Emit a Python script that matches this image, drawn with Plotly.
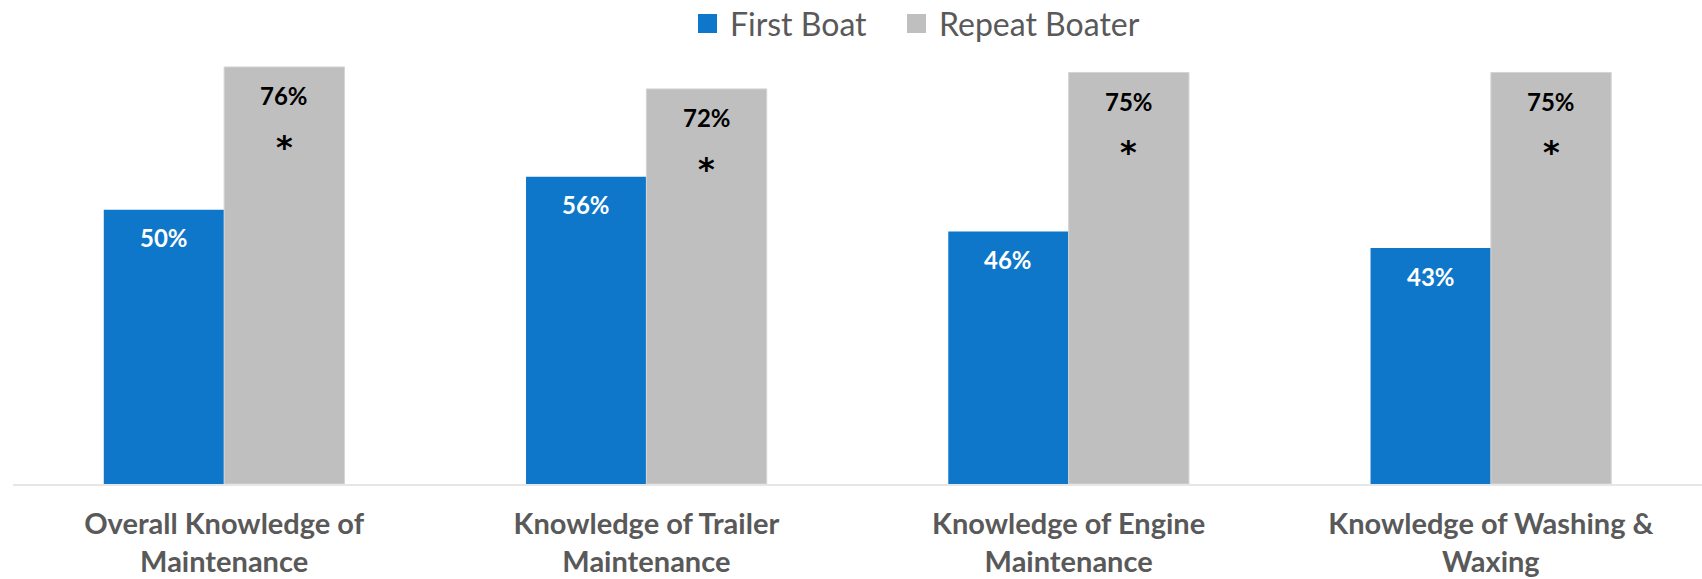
import plotly.graph_objects as go

# Survey results: share of respondents reporting knowledge of each topic
categories = [
    "Overall Knowledge of<br>Maintenance",
    "Knowledge of Trailer<br>Maintenance",
    "Knowledge of Engine<br>Maintenance",
    "Knowledge of Washing &<br>Waxing",
]
first_boat = [50, 56, 46, 43]
repeat_boater = [76, 72, 75, 75]
significant = [True, True, True, True]

series_names = ["First Boat", "Repeat Boater"]
BLUE = "#0E77CA"
GREY = "#BFBFBF"
TEXT = "#595959"
FONT = "Lato"

BAR_GAP = 0.43
half = (1 - BAR_GAP) / 4  # offset of each bar centre from the category centre

fig = go.Figure()
fig.add_trace(go.Bar(
    name=series_names[0], x=list(range(len(categories))), y=first_boat,
    marker=dict(color=BLUE, line=dict(width=0)), showlegend=False,
))
fig.add_trace(go.Bar(
    name=series_names[1], x=list(range(len(categories))), y=repeat_boater,
    marker=dict(color=GREY, line=dict(color="#D4D4D4", width=1)), showlegend=False,
))

annotations = []
for i, (a, b, sig) in enumerate(zip(first_boat, repeat_boater, significant)):
    annotations.append(dict(
        x=i - half, y=a, xref="x", yref="y", text=f"<b>{a}%</b>",
        showarrow=False, yanchor="middle", yshift=-28,
        font=dict(family=FONT, size=24, color="white"),
    ))
    annotations.append(dict(
        x=i + half, y=b, xref="x", yref="y", text=f"<b>{b}%</b>",
        showarrow=False, yanchor="middle", yshift=-29,
        font=dict(family=FONT, size=24, color="black"),
    ))
    if sig:
        # significance marker for the repeat-boater bar
        annotations.append(dict(
            x=i + half, y=b, xref="x", yref="y", text="<b>*</b>",
            showarrow=False, yanchor="middle", yshift=-80,
            font=dict(family="DejaVu Sans", size=32, color="black"),
        ))

# Legend drawn as swatches and labels along the top
legend_items = [(series_names[0], BLUE, 698, 728), (series_names[1], GREY, 907, 937)]
W, H = 1702, 579
shapes = []
for name, color, sx, tx in legend_items:
    shapes.append(dict(
        type="rect", xref="paper", yref="paper",
        x0=(sx - 13) / (W - 13), x1=(sx + 19 - 13) / (W - 13),
        y0=(484 - 33) / 439, y1=(484 - 14) / 439,
        fillcolor=color, line=dict(width=0),
    ))
    annotations.append(dict(
        x=(tx - 13) / (W - 13), y=(484 - 24) / 439, xref="paper", yref="paper",
        text=name, showarrow=False, xanchor="left", yanchor="middle",
        font=dict(family=FONT, size=32, color=TEXT),
    ))

fig.update_layout(
    width=W, height=H,
    margin=dict(l=13, r=0, t=45, b=95),
    paper_bgcolor="white", plot_bgcolor="white",
    barmode="group", bargap=BAR_GAP, bargroupgap=0,
    showlegend=False,
    annotations=annotations, shapes=shapes,
    xaxis=dict(
        tickmode="array", tickvals=list(range(len(categories))), ticktext=categories,
        range=[-0.5, len(categories) - 0.5],
        showline=True, linecolor="#E6E6E6", linewidth=2,
        ticks="outside", ticklen=13, tickcolor="rgba(0,0,0,0)",
        tickfont=dict(family=FONT, size=29, color=TEXT, weight="bold"),
        showgrid=False, zeroline=False,
    ),
    yaxis=dict(range=[0, 80], visible=False, showgrid=False, zeroline=False),
)

fig.write_html("out.html")
